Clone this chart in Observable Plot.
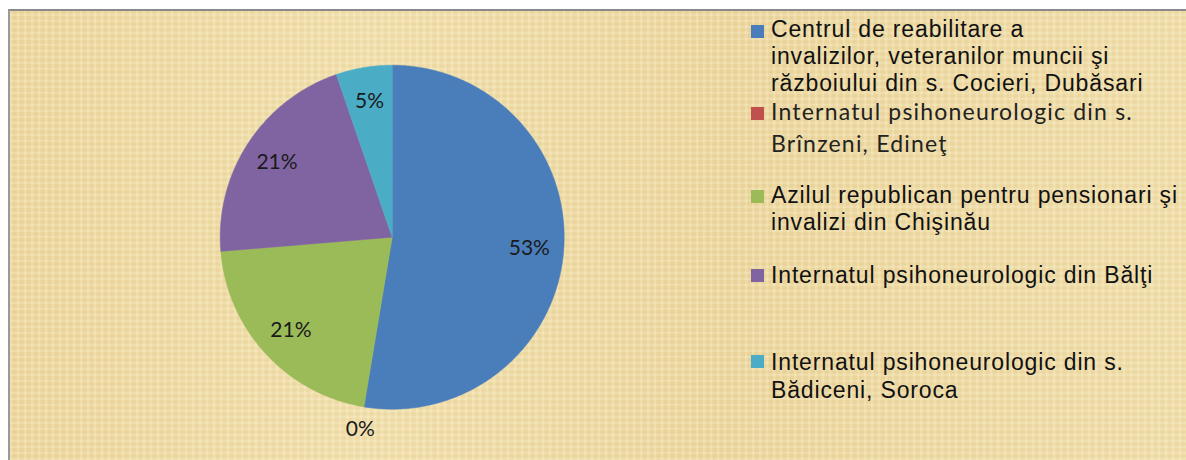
<!DOCTYPE html>
<html>
<head>
<meta charset="utf-8">
<script src="https://cdn.jsdelivr.net/npm/d3@7"></script>
<script src="https://cdn.jsdelivr.net/npm/@observablehq/plot@0.6"></script>
<style>
  html, body { margin: 0; padding: 0; background: #ffffff; }
  #wrap { position: relative; width: 1186px; height: 460px; overflow: hidden; }
  #frame {
    position: absolute; left: 8px; top: 9px; width: 1178px; height: 451px;
    border-top: 2px solid #8a8a8a; border-left: 2px solid #9a9a9a; box-sizing: border-box;
    background-color: #edd9a3;
    background-image:
      repeating-linear-gradient(90deg, rgba(255,248,220,0.22) 0px, rgba(255,248,220,0.22) 2px, rgba(200,170,100,0.06) 3px, rgba(255,248,220,0) 7px),
      repeating-linear-gradient(0deg, rgba(255,250,225,0.20) 0px, rgba(255,250,225,0.20) 2px, rgba(190,160,90,0.06) 3px, rgba(255,250,225,0) 6px),
      linear-gradient(90deg, rgba(230,200,130,0.25), rgba(250,235,190,0.25) 30%, rgba(225,195,125,0.2) 60%, rgba(245,228,180,0.25));
  }
  #chart { position: absolute; left: 0; top: 0; }
  .lg { position: absolute; left: 771px; color: #111; white-space: nowrap; }
  .arial { font-family: "Liberation Sans", Arial, sans-serif; font-size: 23px; line-height: 27px; letter-spacing: 0.85px; }
  .cal { font-family: Lato, "Open Sans", sans-serif; font-size: 23px; line-height: 32px; letter-spacing: 1.2px; color: #222; }
  .sw { position: absolute; left: 751px; width: 13px; height: 13px; }
</style>
</head>
<body>
<div id="wrap">
  <div id="frame"></div>
  <div id="chart"></div>
  <div id="legend"></div>
</div>
<script>
// ---- data ----
const categories = [
  "Centrul de reabilitare a invalizilor, veteranilor muncii şi războiului din s. Cocieri, Dubăsari",
  "Internatul psihoneurologic din s. Brînzeni, Edineţ",
  "Azilul republican pentru pensionari şi invalizi din Chişinău",
  "Internatul psihoneurologic din Bălţi",
  "Internatul psihoneurologic din s. Bădiceni, Soroca"
];
const legendLines = [
  ["Centrul de reabilitare a", "invalizilor, veteranilor muncii şi", "războiului din s. Cocieri, Dubăsari"],
  ["Internatul psihoneurologic din s.", "Brînzeni, Edineţ"],
  ["Azilul republican pentru pensionari şi", "invalizi din Chişinău"],
  ["Internatul psihoneurologic din Bălţi"],
  ["Internatul psihoneurologic din s.", "Bădiceni, Soroca"]
];
const values = [10, 0, 4, 4, 1];
const colors = ["#4a7ebb", "#c0504d", "#9bbb59", "#8064a2", "#4bacc6"];

// ---- pie geometry in data space ----
const total = d3.sum(values);
const pie = d3.pie().sort(null).value(d => d)(values);
const slicePts = [];
pie.forEach((p, i) => {
  if (p.endAngle - p.startAngle <= 0) return;
  slicePts.push({cat: categories[i], x: 0, y: 0});
  const n = Math.max(2, Math.ceil((p.endAngle - p.startAngle) / 0.01));
  for (let k = 0; k <= n; k++) {
    const a = p.startAngle + (p.endAngle - p.startAngle) * k / n;
    slicePts.push({cat: categories[i], x: Math.sin(a), y: Math.cos(a)});
  }
  slicePts.push({cat: categories[i], x: 0, y: 0});
});
const labels = pie.map((p, i) => {
  const a = (p.startAngle + p.endAngle) / 2;
  const r = values[i] === 0 ? 1.13 : 0.8;
  return {x: r * Math.sin(a), y: r * Math.cos(a), text: Math.round(values[i] / total * 100) + "%"};
});

const cx = 391.7, cy = 236.7, R = 172;
const chart = Plot.plot({
  width: 1186, height: 460,
  margin: 0,
  style: {background: "transparent", overflow: "visible"},
  x: {domain: [-1, 1], range: [cx - R, cx + R], axis: null},
  y: {domain: [-1, 1], range: [cy + R, cy - R], axis: null},
  color: {domain: categories, range: colors},
  marks: [
    Plot.line(slicePts, {x: "x", y: "y", z: "cat", fill: "cat", stroke: "cat", strokeWidth: 0.5, curve: "linear"}),
    Plot.text(labels, {x: "x", y: "y", text: "text", fontSize: 21, fontFamily: "Lato, 'Open Sans', sans-serif", fill: "#1a1a1a", letterSpacing: 1})
  ]
});
document.getElementById("chart").appendChild(chart);

// ---- legend ----
const legendTops = [16, 95, 182, 262, 348];
const legendClass = ["arial", "cal", "arial", "arial", "arial"];
const swatchTops = [25, 107, 190, 269, 355];
const lg = document.getElementById("legend");
categories.forEach((c, i) => {
  const sw = document.createElement("div");
  sw.className = "sw";
  sw.style.top = swatchTops[i] + "px";
  sw.style.background = colors[i];
  lg.appendChild(sw);
  const t = document.createElement("div");
  t.className = "lg " + legendClass[i];
  t.style.top = legendTops[i] + "px";
  if (i === 4) t.style.lineHeight = "28px";
  t.innerHTML = legendLines[i].join("<br>");
  lg.appendChild(t);
});
</script>
</body>
</html>
